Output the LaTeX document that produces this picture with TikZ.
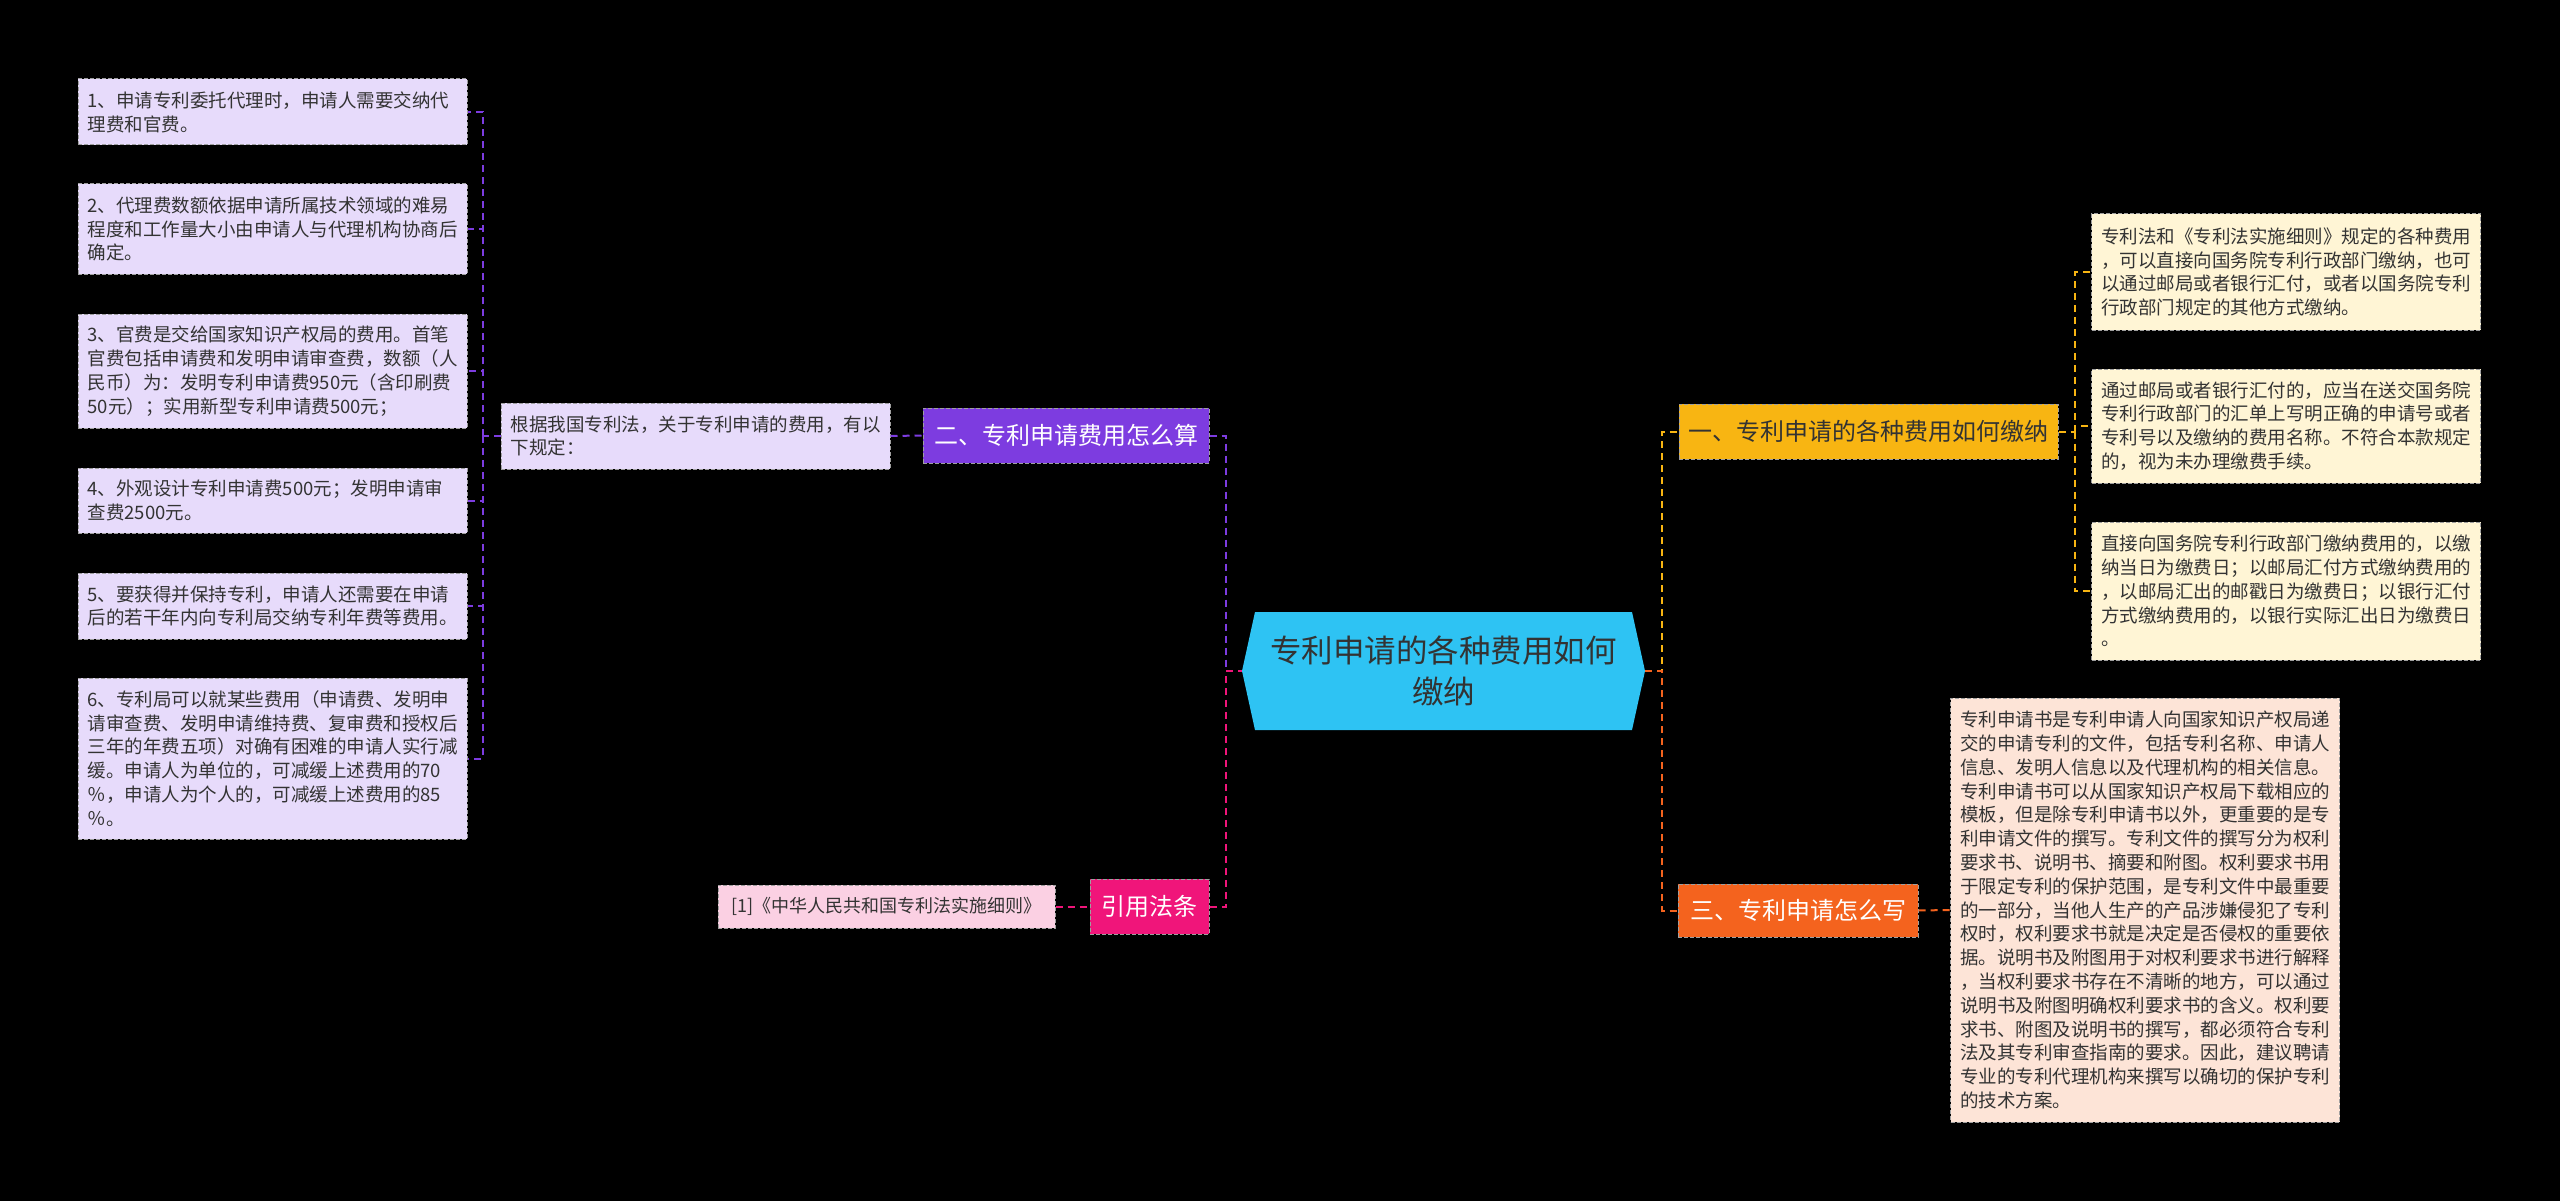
\documentclass[tikz,border=0pt]{standalone}
\usepackage{fontspec}
\setmainfont{Noto Sans CJK SC}
\definecolor{rootc}{HTML}{2EC3F3}
\definecolor{purc}{HTML}{7D3CE0}
\definecolor{purl}{HTML}{E7DBFB}
\definecolor{yelc}{HTML}{F8B512}
\definecolor{yell}{HTML}{FFF5D5}
\definecolor{orac}{HTML}{F4631E}
\definecolor{oral}{HTML}{FDE4D7}
\definecolor{pinc}{HTML}{F0157A}
\definecolor{pinl}{HTML}{FBD0E3}
\definecolor{txtc}{HTML}{333333}

\begin{document}
\begin{tikzpicture}[x=1pt,y=-1pt,
  every node/.style={inner sep=0pt},
  box/.style={draw=gray!75, dash pattern=on 4pt off 2pt, line width=1pt},
  leaf/.style={box, fill=#1, text=txtc, align=left, text width=370pt, inner xsep=9.5pt,
    font=\fontsize{18.5}{23.8}\selectfont},
  branch/.style={box, fill=#1, text=white, minimum height=55pt,
    font=\fontsize{24}{30}\selectfont},
  link/.style={draw=#1, line width=2pt, dash pattern=on 7pt off 5pt}]
\fill[black] (0,0) rectangle (2560,1201); % background

% centre
\fill[rootc] (1255,612) -- (1632,612) -- (1645,671) -- (1632,730) -- (1255,730) -- (1242,671) -- cycle;
\node[text=txtc, align=center, minimum width=403pt, minimum height=118pt,
  font=\fontsize{31.5}{41}\selectfont] (root) at (1443.5,671) {专利申请的各种费用如何\\缴纳};

% left: fees
\node[branch=purc, minimum width=286pt] (b2) at (1066,435.5) {二、专利申请费用怎么算};
\node[leaf=purl, minimum height=66pt] (g) at (695.5,436) {根据我国专利法，关于专利申请的费用，有以\\下规定：};
\node[leaf=purl, minimum height=66pt] (l1) at (272.5,112) {1、申请专利委托代理时，申请人需要交纳代\\理费和官费。};
\node[leaf=purl, minimum height=90pt] (l2) at (272.5,229) {2、代理费数额依据申请所属技术领域的难易\\程度和工作量大小由申请人与代理机构协商后\\确定。};
\node[leaf=purl, minimum height=114pt] (l3) at (272.5,371) {3、官费是交给国家知识产权局的费用。首笔\\官费包括申请费和发明申请审查费，数额（人\\民币）为：发明专利申请费950元（含印刷费\\50元）；实用新型专利申请费500元；};
\node[leaf=purl, minimum height=65pt] (l4) at (272.5,500.5) {4、外观设计专利申请费500元；发明申请审\\查费2500元。};
\node[leaf=purl, minimum height=66pt] (l5) at (272.5,606) {5、要获得并保持专利，申请人还需要在申请\\后的若干年内向专利局交纳专利年费等费用。};
\node[leaf=purl, minimum height=161pt] (l6) at (272.5,758.5) {6、专利局可以就某些费用（申请费、发明申\\请审查费、发明申请维持费、复审费和授权后\\三年的年费五项）对确有困难的申请人实行减\\缓。申请人为单位的，可减缓上述费用的70\\％，申请人为个人的，可减缓上述费用的85\\％。};

% left: citation
\node[branch=pinc, minimum width=119pt] (b4) at (1149.5,906.5) {引用法条};
\node[box, fill=pinl, text=txtc, minimum width=337pt, minimum height=43pt,
  font=\fontsize{18}{22}\selectfont] (cite) at (886.5,906.5) {[1]《中华人民共和国专利法实施细则》};

% right: paying
\node[branch=yelc, text=txtc, minimum width=379pt] (b1) at (1868.5,431.5) {一、专利申请的各种费用如何缴纳};
\node[leaf=yell, minimum height=116pt] (r1) at (2286,272) {专利法和《专利法实施细则》规定的各种费用\\，可以直接向国务院专利行政部门缴纳，也可\\以通过邮局或者银行汇付，或者以国务院专利\\行政部门规定的其他方式缴纳。};
\node[leaf=yell, minimum height=114pt] (r2) at (2286,426) {通过邮局或者银行汇付的，应当在送交国务院\\专利行政部门的汇单上写明正确的申请号或者\\专利号以及缴纳的费用名称。不符合本款规定\\的，视为未办理缴费手续。};
\node[leaf=yell, minimum height=138pt] (r3) at (2286,591) {直接向国务院专利行政部门缴纳费用的，以缴\\纳当日为缴费日；以邮局汇付方式缴纳费用的\\，以邮局汇出的邮戳日为缴费日；以银行汇付\\方式缴纳费用的，以银行实际汇出日为缴费日\\。};

% right: writing
\node[branch=orac, minimum width=240pt, minimum height=53pt] (b3) at (1798,910.5) {三、专利申请怎么写};
\node[leaf=oral, minimum height=424pt] (o1) at (2145,910) {专利申请书是专利申请人向国家知识产权局递\\交的申请专利的文件，包括专利名称、申请人\\信息、发明人信息以及代理机构的相关信息。\\专利申请书可以从国家知识产权局下载相应的\\模板，但是除专利申请书以外，更重要的是专\\利申请文件的撰写。专利文件的撰写分为权利\\要求书、说明书、摘要和附图。权利要求书用\\于限定专利的保护范围，是专利文件中最重要\\的一部分，当他人生产的产品涉嫌侵犯了专利\\权时，权利要求书就是决定是否侵权的重要依\\据。说明书及附图用于对权利要求书进行解释\\，当权利要求书存在不清晰的地方，可以通过\\说明书及附图明确权利要求书的含义。权利要\\求书、附图及说明书的撰写，都必须符合专利\\法及其专利审查指南的要求。因此，建议聘请\\专业的专利代理机构来撰写以确切的保护专利\\的技术方案。};

% links
\draw[link=purc] (b2.east) -- ++(16,0) |- (root.west);
\draw[link=pinc] (b4.east) -- ++(16,0) |- (root.west);
\draw[link=yelc] (root.east) -- ++(17,0) |- (b1.west);
\draw[link=orac] (root.east) -- ++(17,0) |- (b3.west);
\draw[link=purc] (g.east) -- (b2.west);
\draw[link=purc] (g.west) -- ++(-18,0) coordinate (lb);
\foreach \i in {1,...,6} \draw[link=purc] (lb) |- (l\i.east);
\draw[link=pinc] (cite.east) -- (b4.west);
\draw[link=yelc] (b1.east) -- ++(16,0) coordinate (rb);
\foreach \i in {1,2,3} \draw[link=yelc] (rb) |- (r\i.west);
\draw[link=orac] (b3.east) -- (o1.west);
\end{tikzpicture}
\end{document}
